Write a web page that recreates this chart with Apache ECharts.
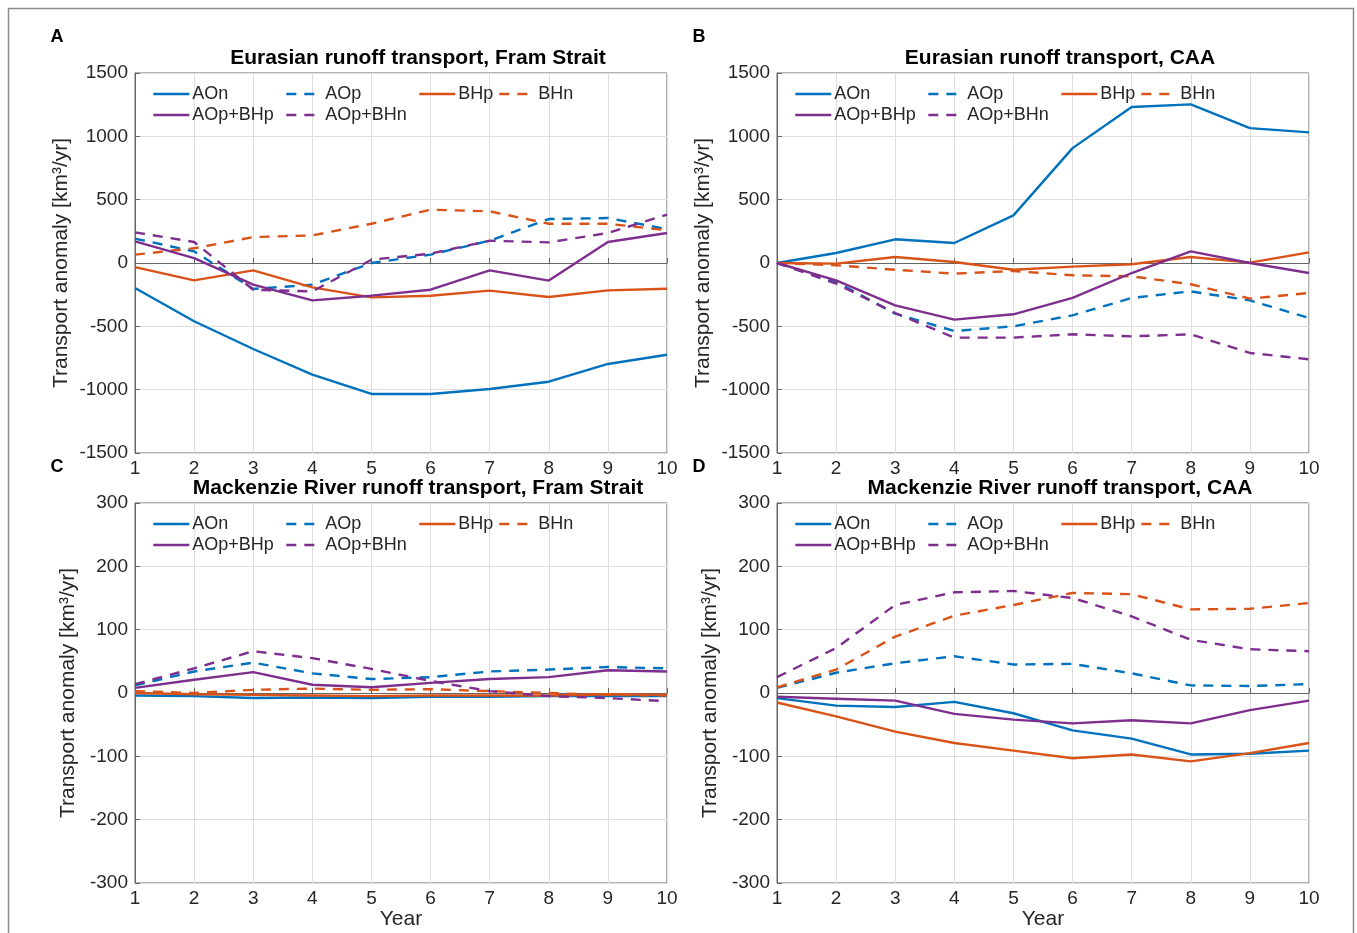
<!DOCTYPE html>
<html>
<head>
<meta charset="utf-8">
<script src="https://cdn.jsdelivr.net/npm/echarts@6/dist/echarts.min.js"></script>
<style>
  html, body { margin: 0; padding: 0; background: #fff; }
  #main { width: 1357px; height: 933px; }
</style>
</head>
<body>
<div id="main"></div>
<script>
// years on the x axis
var years = [1, 2, 3, 4, 5, 6, 7, 8, 9, 10];
var seriesNames = ['AOn', 'AOp', 'BHp', 'BHn', 'AOp+BHp', 'AOp+BHn'];
var panelTitles = [
    'Eurasian runoff transport, Fram Strait',
    'Eurasian runoff transport, CAA',
    'Mackenzie River runoff transport, Fram Strait',
    'Mackenzie River runoff transport, CAA'
];
var panelLetters = ['A', 'B', 'C', 'D'];
var yTicksTop = [-1500, -1000, -500, 0, 500, 1000, 1500];
var yTicksBottom = [-300, -200, -100, 0, 100, 200, 300];

// A: Eurasian runoff, Fram Strait
var eurFram_AOn = [-197, -460, -679, -882, -1034, -1034, -995, -937, -797, -724];
var eurFram_AOp = [192, 92, -205, -171, 0, 66, 176, 347, 355, 268];
var eurFram_BHp = [-32, -137, -58, -192, -271, -258, -218, -268, -216, -203];
var eurFram_BHn = [66, 116, 205, 218, 310, 421, 408, 310, 310, 258];
var eurFram_AOpBHp = [171, 39, -171, -295, -258, -211, -58, -139, 166, 237];
var eurFram_AOpBHn = [242, 166, -211, -224, 26, 74, 176, 163, 237, 382];

// B: Eurasian runoff, CAA
var eurCAA_AOn = [0, 79, 187, 158, 376, 907, 1231, 1252, 1065, 1031];
var eurCAA_AOp = [0, -150, -400, -537, -500, -413, -276, -224, -295, -434];
var eurCAA_BHp = [0, -5, 47, 8, -53, -29, -10, 47, 3, 84];
var eurCAA_BHn = [0, -18, -53, -84, -63, -97, -105, -168, -281, -237];
var eurCAA_AOpBHp = [0, -137, -334, -447, -405, -276, -79, 92, 0, -79];
var eurCAA_AOpBHn = [0, -163, -395, -589, -589, -563, -579, -563, -710, -760];

// C: Mackenzie runoff, Fram Strait
var mackFram_AOn = [-4, -5, -8, -7, -8, -6, -6, -5, -5, -5];
var mackFram_AOp = [12, 34, 48, 31, 22, 25, 34, 37, 41, 39];
var mackFram_BHp = [0, -2, -3, -4, -5, -4, -4, -4, -2, -3];
var mackFram_BHn = [3, 0, 5, 7, 5, 6, 3, 0, -3, -4];
var mackFram_AOpBHp = [8, 21, 33, 13, 9, 16, 22, 25, 36, 34];
var mackFram_AOpBHn = [14, 39, 66, 55, 38, 19, 3, -5, -8, -13];

// D: Mackenzie runoff, CAA
var mackCAA_AOn = [-8, -20, -22, -14, -32, -59, -72, -97, -96, -91];
var mackCAA_AOp = [8, 32, 47, 58, 45, 46, 31, 12, 11, 14];
var mackCAA_BHp = [-15, -37, -61, -79, -91, -103, -97, -108, -95, -79];
var mackCAA_BHn = [9, 37, 89, 122, 139, 158, 156, 132, 133, 142];
var mackCAA_AOpBHp = [-6, -9, -12, -33, -42, -48, -43, -48, -27, -12];
var mackCAA_AOpBHn = [25, 71, 139, 159, 161, 150, 121, 84, 69, 66];

var panelData = [
    [eurFram_AOn, eurFram_AOp, eurFram_BHp, eurFram_BHn, eurFram_AOpBHp, eurFram_AOpBHn],
    [eurCAA_AOn, eurCAA_AOp, eurCAA_BHp, eurCAA_BHn, eurCAA_AOpBHp, eurCAA_AOpBHn],
    [mackFram_AOn, mackFram_AOp, mackFram_BHp, mackFram_BHn, mackFram_AOpBHp, mackFram_AOpBHn],
    [mackCAA_AOn, mackCAA_AOp, mackCAA_BHp, mackCAA_BHn, mackCAA_AOpBHp, mackCAA_AOpBHn]
];

var BLUE = '#0072BD', ORANGE = '#D95319', PURPLE = '#7E2F8E';
var lineColors = [BLUE, BLUE, ORANGE, ORANGE, PURPLE, PURPLE];
var lineTypes = ['solid', [10, 8], 'solid', [10, 8], 'solid', [10, 8]];
var FONT = '"Liberation Sans", Arial, sans-serif';
var TXT = '#262626';

var grids = [
    { left: 135, top: 73, width: 532, height: 380 },
    { left: 777, top: 73, width: 532, height: 380 },
    { left: 135, top: 503, width: 532, height: 380 },
    { left: 777, top: 503, width: 532, height: 380 }
];

var option = {
    animation: false,
    backgroundColor: '#fff',
    grid: [],
    xAxis: [],
    yAxis: [],
    legend: [],
    series: [],
    graphic: []
};

// outer frame
option.graphic.push({
    type: 'rect',
    shape: { x: 8.5, y: 8.5, width: 1345, height: 940 },
    style: { fill: 'none', stroke: '#8c8c8c', lineWidth: 1.5 },
    silent: true
});

grids.forEach(function (g, p) {
    var top = p < 2;
    var yTicks = top ? yTicksTop : yTicksBottom;
    option.grid.push({
        left: g.left, top: g.top, width: g.width, height: g.height,
        show: true, borderColor: '#666', borderWidth: 1, containLabel: false
    });
    option.xAxis.push({
        type: 'value', gridIndex: p, min: 1, max: 10, interval: 1,
        name: top ? '' : 'Year',
        nameLocation: 'middle', nameGap: 24,
        nameTextStyle: { fontFamily: FONT, fontSize: 21, color: TXT },
        axisLine: { lineStyle: { color: '#666', width: 1 } },
        axisTick: { inside: true, length: 5, lineStyle: { color: '#666' } },
        axisLabel: { fontFamily: FONT, fontSize: 19, color: TXT, margin: 6 },
        splitLine: { show: true, lineStyle: { color: '#dedede', width: 1 } }
    });
    option.yAxis.push({
        type: 'value', gridIndex: p,
        min: yTicks[0], max: yTicks[yTicks.length - 1],
        interval: yTicks[1] - yTicks[0],
        name: 'Transport anomaly [km³/yr]',
        nameLocation: 'middle', nameGap: top ? 63 : 56,
        nameTextStyle: { fontFamily: FONT, fontSize: 21, color: TXT },
        axisLine: { show: true, lineStyle: { color: '#666', width: 1 } },
        axisTick: { show: true, inside: true, length: 5, lineStyle: { color: '#666' } },
        axisLabel: {
            fontFamily: FONT, fontSize: 19, color: TXT, margin: 7,
            formatter: function (v) { return String(v); }
        },
        splitLine: { show: true, lineStyle: { color: '#dedede', width: 1 } }
    });

    // title and panel letter
    option.graphic.push({
        type: 'text', x: g.left + g.width / 2 + 17, y: g.top - 15,
        style: {
            text: panelTitles[p], fontFamily: FONT, fontSize: 21, fontWeight: 'bold',
            fill: '#000', align: 'center', verticalAlign: 'middle'
        }
    });
    option.graphic.push({
        type: 'text', x: g.left - 78, y: g.top - 36,
        style: {
            text: panelLetters[p], fontFamily: FONT, fontSize: 18, fontWeight: 'bold',
            fill: '#000', align: 'center', verticalAlign: 'middle'
        }
    });

    // legend laid out as MATLAB columns
    var cols = [
        { dx: 17, names: ['AOn', 'AOp+BHp'] },
        { dx: 150, names: ['AOp', 'AOp+BHn'] },
        { dx: 283, names: ['BHp'] },
        { dx: 363, names: ['BHn'] }
    ];
    cols.forEach(function (c) {
        option.legend.push({
            orient: 'vertical',
            left: g.left + c.dx, top: g.top + 12,
            data: c.names,
            itemWidth: 36, itemHeight: 12, itemGap: 3,
            selectedMode: false,
            padding: 0,
            itemStyle: { opacity: 0 },
            lineStyle: { width: 2.6 },
            textStyle: { fontFamily: FONT, fontSize: 18, color: TXT, padding: [0, 0, 0, -2], lineHeight: 16 }
        });
    });

    panelData[p].forEach(function (vals, i) {
        option.series.push({
            name: seriesNames[i],
            type: 'line',
            xAxisIndex: p, yAxisIndex: p,
            showSymbol: false, symbol: 'none',
            data: years.map(function (yr, k) { return [yr, vals[k]]; }),
            lineStyle: { color: lineColors[i], width: 2.4, type: lineTypes[i] },
            itemStyle: { color: lineColors[i] },
            z: 3
        });
    });
});

var chart = echarts.init(document.getElementById('main'));
chart.setOption(option);
</script>
</body>
</html>
